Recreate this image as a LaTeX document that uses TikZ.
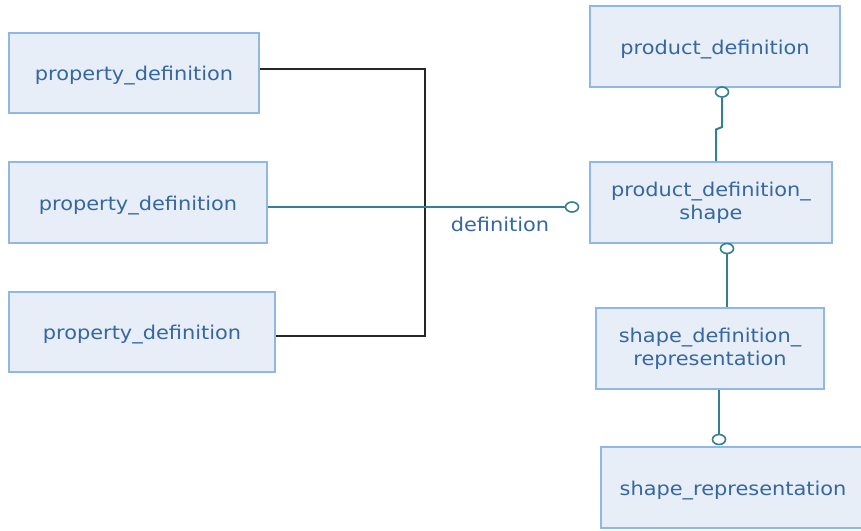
\documentclass[tikz,border=0pt]{standalone}
\usepackage{fontspec}
\setmainfont[FakeStretch=1.1]{DejaVu Sans}
\usetikzlibrary{shapes.geometric}
\definecolor{boxfill}{HTML}{E8EEF8}
\definecolor{boxline}{HTML}{90B8E4}
\definecolor{boxtext}{HTML}{3567A0}
\definecolor{tealline}{HTML}{34808E}
\newcommand{\oneline}[1]{\raisebox{-3pt}[14pt][5pt]{#1}}
\tikzset{
  entity/.style={draw=boxline, line width=1.6pt, fill=boxfill, text=boxtext,
    font=\fontsize{19}{23}\selectfont, align=center, inner sep=0pt},
  knob/.style={ellipse, draw=tealline, line width=1.6pt, fill=white,
    minimum width=13pt, minimum height=10pt, inner sep=0pt},
  tline/.style={draw=tealline, line width=2pt},
  bline/.style={draw=black!85, line width=2pt},
}
\begin{document}
\begin{tikzpicture}[x=1pt, y=-1pt]
\useasboundingbox (0,0) rectangle (861,530);
\node[entity, minimum width=250pt, minimum height=80pt] (pd1) at (134,73) {\oneline{property\_definition}};
\node[entity, minimum width=258pt, minimum height=81pt] (pd2) at (138,202.5) {\oneline{property\_definition}};
\node[entity, minimum width=266pt, minimum height=80pt] (pd3) at (142,332) {\oneline{property\_definition}};
\node[entity, minimum width=250pt, minimum height=81pt] (pd) at (715,46.5) {\oneline{product\_definition}};
\node[entity, minimum width=242pt, minimum height=81pt] (pds) at (711,202.5) {product\_definition\_\\shape};
\node[entity, minimum width=228pt, minimum height=81pt] (sdr) at (710,348.5) {shape\_definition\_\\representation};
\node[entity, minimum width=264pt, minimum height=81pt] (sr) at (733,487.5) {\oneline{shape\_representation}};

\node[knob] (k1) at (722,92) {};
\node[knob] (k2) at (727,248.5) {};
\node[knob] (k3) at (719,439.5) {};
\node[knob] (k4) at (572,207) {};

\coordinate (jt) at (425,69);
\coordinate (jb) at (425,336);
\draw[bline] (pd1.east |- jt) -- (jt) -- (jb) -- (pd3.east |- jb);

\draw[tline] (pd2.east |- k4) -- (k4.west);
\node[text=boxtext, font=\fontsize{19}{23}\selectfont] (lbl) at (500,224) {definition};

\coordinate (s1) at (722,127);
\coordinate (s2) at (716,129.5);
\draw[tline] (k1.south) -- (s1) -- (s2) -- (s2 |- pds.north);
\draw[tline] (k2.south) -- (k2 |- sdr.north);
\draw[tline] (k3 |- sdr.south) -- (k3.north);
\end{tikzpicture}
\end{document}
